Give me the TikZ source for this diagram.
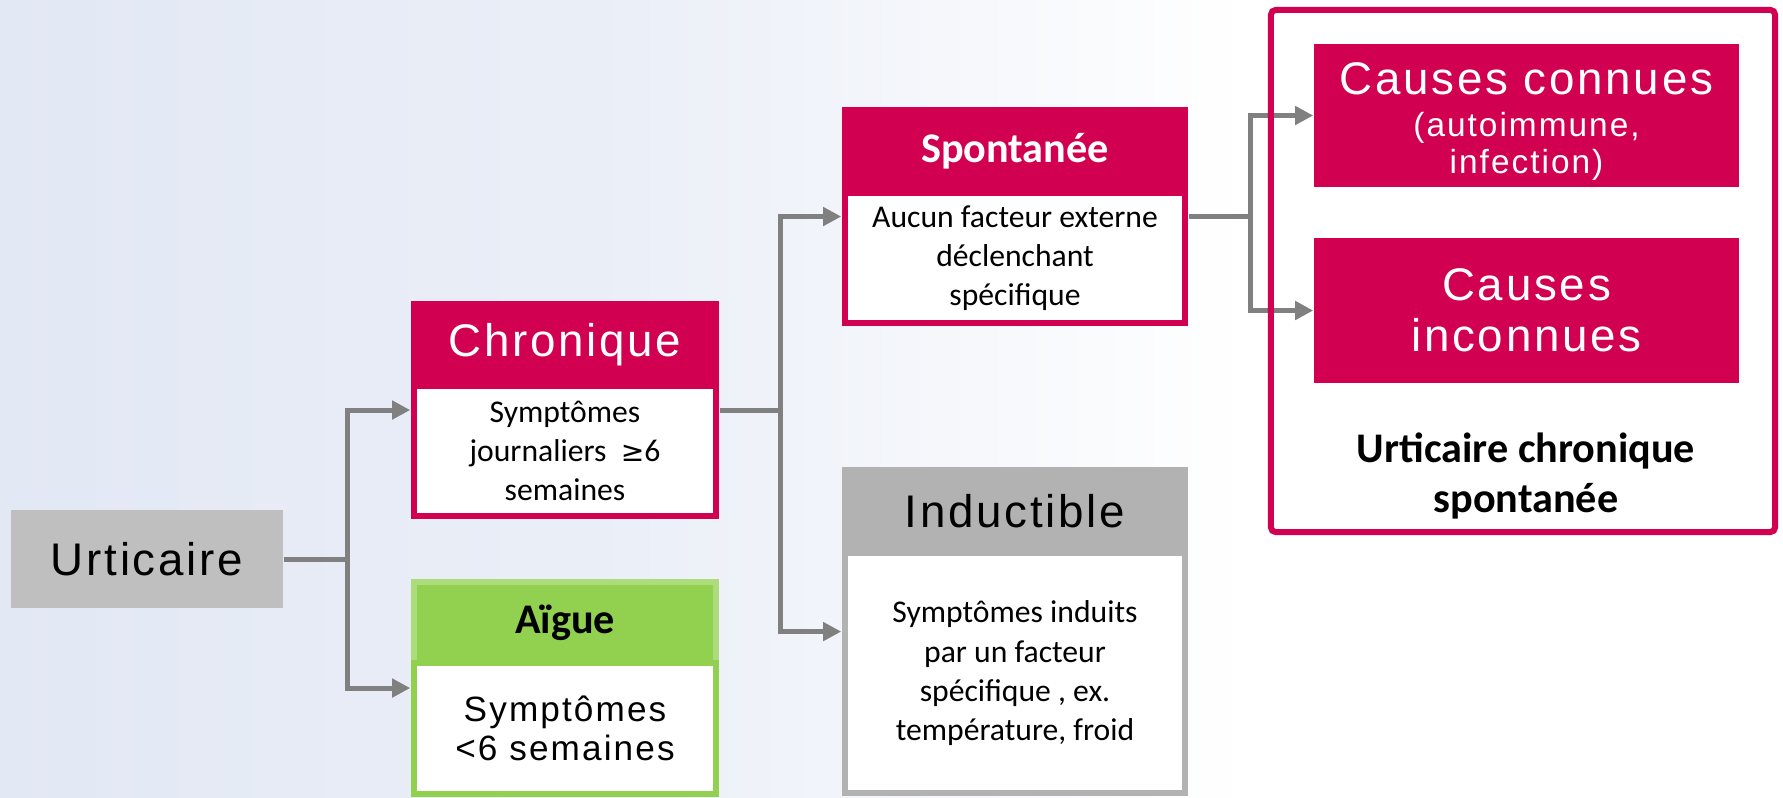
\documentclass[tikz,border=0pt]{standalone}
\usepackage{fontspec}
\setmainfont{Carlito}
\newfontfamily\widefont[LetterSpace=6]{Liberation Sans}
\newfontfamily\symfont{DejaVu Sans}
\usetikzlibrary{positioning,fit,arrows.meta}

\definecolor{crim}{RGB}{210,0,80}
\definecolor{aiggreen}{RGB}{146,208,80}
\definecolor{urtgray}{RGB}{191,191,191}
\definecolor{indgray}{RGB}{178,178,178}
\definecolor{arrgray}{RGB}{128,128,128}
\definecolor{bgblue}{RGB}{226,232,244}

\tikzset{
  head/.style={outer sep=0pt, inner sep=0pt, line width=0.06cm, align=center},
  body/.style={fill=white, outer sep=0pt, inner sep=0pt, line width=0.06cm, align=center,
    font=\fontsize{9}{11.1}\selectfont},
  wide/.style={font=\widefont\fontsize{13}{15}\selectfont},
  boldhead/.style={font=\bfseries\fontsize{12}{14}\selectfont},
  cause/.style={fill=crim, text=white, minimum width=4.25cm, inner sep=0pt, align=center,
    font=\widefont\fontsize{13}{14.5}\selectfont},
  arr/.style={draw=arrgray, line width=0.05cm, -{Triangle[length=0.18cm, width=0.18cm]}},
}

\begin{document}
\begin{tikzpicture}[x=0.01cm, y=-0.01cm]
    \useasboundingbox (0,0) rectangle (1783,797);
    % 背景
    \shade[left color=bgblue, right color=white, middle color=bgblue!70!white] (0,0) rectangle (1250,797);

    % 箱を置く
    \node[fill=urtgray, minimum width=2.72cm, minimum height=0.98cm, wide] (urt) at (147,559) {Urticaire};

    \node[head, fill=crim, draw=crim, text=white, wide, minimum width=3.02cm, minimum height=0.82cm] (chron) at (565,345) {Chronique};
    \node[body, draw=crim, minimum width=3.02cm, minimum height=1.30cm, below=0pt of chron] (chronb) {Symptômes\\journaliers~~{\symfont\fontsize{8}{10}\selectfont ≥}6\\semaines};
    \node[fit=(chron)(chronb), inner sep=0.03cm] (chronbox) {};

    \node[head, fill=aiggreen, draw=aiggreen!75!white, boldhead, minimum width=3.02cm, minimum height=0.81cm] (aig) at (565,622.5) {Aïgue};
    \node[body, draw=aiggreen, minimum width=3.02cm, minimum height=1.31cm, below=0pt of aig, font=\widefont\fontsize{10}{11.1}\selectfont] (aigb) {Symptômes\\<6 semaines};
    \node[fit=(aig)(aigb), inner sep=0.03cm] (aigbox) {};

    \node[head, fill=crim, draw=crim, text=white, boldhead, minimum width=3.40cm, minimum height=0.83cm] (spon) at (1015,151.5) {Spontanée};
    \node[body, draw=crim, minimum width=3.40cm, minimum height=1.30cm, below=0pt of spon] (sponb) {Aucun facteur externe\\déclenchant\\spécifique};
    \node[fit=(spon)(sponb), inner sep=0.03cm] (sponbox) {};

    \node[head, fill=indgray, draw=indgray, wide, minimum width=3.40cm, minimum height=0.83cm] (ind) at (1015,511.5) {Inductible};
    \node[body, draw=indgray, minimum width=3.40cm, minimum height=2.40cm, below=0pt of ind] (indb) {Symptômes induits\\par un facteur\\spécifique , ex.\\température, froid};
    \node[fit=(ind)(indb), inner sep=0.03cm] (indbox) {};

    \node[cause, minimum height=1.43cm] (conn) at (1526.5,115.5) {\rule{0pt}{12.4pt}Causes connues\\[-2.5pt]{\fontsize{9.5}{10}\selectfont (autoimmune,}\\[-4pt]{\fontsize{9.5}{10}\selectfont infection)}};
    \node[cause, minimum height=1.45cm] (inconn) at (1526.5,310.5) {Causes\\inconnues};
    \node[font=\bfseries\fontsize{12}{14.3}\selectfont, align=center] (ucslab) at (1526,476) {Urticaire chronique\\spontanée};

    % 矢印を引く
    \draw[arr] (urt.east) -- ++(64,0) |- (chronbox.west);
    \draw[arr] (urt.east) -- ++(64,0) |- (aigbox.west);
    \draw[arr] (chronbox.east) -- ++(61,0) |- (sponbox.west);
    \draw[arr] (chronbox.east) -- ++(61,0) |- (indbox.west);
    \draw[arr] (sponbox.east) -- ++(62,0) |- (conn.west);
    \draw[arr] (sponbox.east) -- ++(62,0) |- (inconn.west);

    % 枠
    \node[draw=crim, line width=0.06cm, rounded corners=0.05cm, minimum width=5.04cm, minimum height=5.22cm, inner sep=0pt] (ucs) at (1523,271) {};

\end{tikzpicture}
\end{document}
